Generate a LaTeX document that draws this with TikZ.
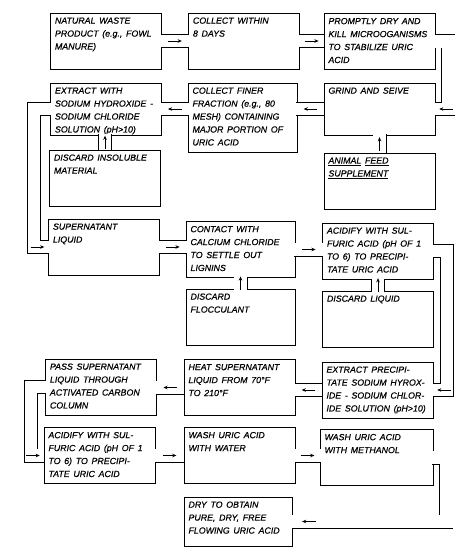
\documentclass[tikz,border=0pt]{standalone}
\usepackage{fontspec}
\setmainfont{Liberation Sans}[WordSpace=1.5, FakeBold=0.6]
\usetikzlibrary{arrows.meta,decorations.markings}

\begin{document}
\begin{tikzpicture}[x=0.85pt, y=-0.85pt,
  box/.style={draw, line width=.75pt, minimum width=94.4pt, minimum height=47.6pt, inner sep=0pt},
  txt/.style={anchor=north west, align=left, inner xsep=4pt, inner ysep=4pt, font=\fontsize{7.5}{11}\selectfont\itshape},
  pipe/.style={draw, line width=.75pt, double, double distance=10.4pt, shorten <=-.8pt, shorten >=-.8pt},
  tip/.style={-{Stealth[length=3.5pt,width=3pt]}, line width=.7pt},
  flow/.style={postaction={decorate, decoration={markings, mark=at position #1 with {\draw[tip] (-5pt,0) -- (5pt,0);}}}},
  flow/.default=0.5
]
\useasboundingbox (0,0) rectangle (464,548);

% first row
\node[box, label={[txt]north west:{NATURAL WASTE\\PRODUCT (e.g., FOWL\\MANURE)}}] (waste) at (106,41) {};
\node[box, label={[txt]north west:{COLLECT WITHIN\\8 DAYS}}] (collect) at (244,41) {};
\node[box, label={[txt]north west:{PROMPTLY DRY AND\\KILL MICROOGANISMS\\TO STABILIZE URIC\\ACID}}] (dry) at (379.5,41.5) {};

% second row
\node[box, minimum height=44.2pt, label={[txt]north west:{EXTRACT WITH\\SODIUM HYDROXIDE -\\SODIUM CHLORIDE\\SOLUTION (pH>10)}}] (extract) at (106,109) {};
\node[box, minimum width=92.6pt, minimum height=58.6pt, label={[txt]north west:{COLLECT FINER\\FRACTION (e.g., 80\\MESH) CONTAINING\\MAJOR PORTION OF\\URIC ACID}}] (finer) at (242.5,117.5) {};
\node[box, minimum height=44.2pt, label={[txt]north west:{GRIND AND SEIVE}}] (grind) at (379.5,109) {};

\node[box, label={[txt]north west:{DISCARD INSOLUBLE\\MATERIAL}}] (insol) at (105,178) {};
\node[box, label={[txt]north west:{\underline{ANIMAL} \underline{FEED}\\\underline{SUPPLEMENT}}}] (feed) at (379.5,181) {};

% middle part
\node[box, label={[txt]north west:{SUPERNATANT\\LIQUID}}] (super) at (104,247) {};
\node[box, minimum width=92.6pt, label={[txt]north west:{CONTACT WITH\\CALCIUM CHLORIDE\\TO SETTLE OUT\\LIGNINS}}] (contact) at (240.5,249.5) {};
\node[box, label={[txt]north west:{ACIDIFY WITH SUL-\\FURIC ACID (pH OF 1\\TO 6) TO PRECIPI-\\TATE URIC ACID}}] (acidA) at (378,251) {};

\node[box, minimum width=92.6pt, label={[txt]north west:{DISCARD\\FLOCCULANT}}] (floc) at (240.5,317) {};
\node[box, label={[txt]north west:{DISCARD LIQUID}}] (liquid) at (378,319) {};

\node[box, label={[txt]north west:{PASS SUPERNATANT\\LIQUID THROUGH\\ACTIVATED CARBON\\COLUMN}}] (carbon) at (101,387) {};
\node[box, label={[txt]north west:{HEAT SUPERNATANT\\LIQUID FROM 70°F\\TO 210°F}}] (heat) at (239.5,387.5) {};
\node[box, label={[txt]north west:{EXTRACT PRECIPI-\\TATE SODIUM HYROX-\\IDE - SODIUM CHLOR-\\IDE SOLUTION (pH>10)}}] (precip) at (377.5,390) {};

% last rows
\node[box, label={[txt]north west:{ACIDIFY WITH SUL-\\FURIC ACID (pH OF 1\\TO 6) TO PRECIPI-\\TATE URIC ACID}}] (acidB) at (99.5,455.5) {};
\node[box, label={[txt]north west:{WASH URIC ACID\\WITH WATER}}] (water) at (239.5,455.5) {};
\node[box, minimum width=96pt, label={[txt]north west:{WASH URIC ACID\\WITH METHANOL}}] (methanol) at (376.5,457.5) {};
\node[box, minimum width=91.8pt, minimum height=41.6pt, label={[txt]north west:{DRY TO OBTAIN\\PURE, DRY, FREE\\FLOWING URIC ACID}}] (final) at (238,521.5) {};

% pipes
\draw[pipe, flow] (waste.east) -- (collect.west);
\draw[pipe, flow] (collect.east) -- (collect.east -| dry.west);
\draw[pipe, flow=-9pt] (dry.east) -- ++(13,0) |- (grind.east);
\draw[pipe, flow] (grind.west) -- (grind.west -| finer.east);
\draw[pipe, flow] (extract.east -| finer.west) -- (extract.east);
\draw[pipe, flow] (insol.north) -- (insol.north |- extract.south);
\draw[pipe, flow] (feed.north) -- (feed.north |- grind.south);
\draw[pipe, flow=-9pt] (extract.west) -- ++(-16,0) |- (super.west);
\draw[pipe, flow] (super.east) -- (super.east -| contact.west);
\draw[pipe, flow] (contact.east) -- (contact.east -| acidA.west);
\draw[pipe, flow] (floc.north) -- (floc.north |- contact.south);
\draw[pipe, flow] (liquid.north) -- (liquid.north |- acidA.south);
\draw[pipe, flow=-9pt] (acidA.east) -- ++(13,0) |- (precip.east);
\draw[pipe, flow] (precip.west) -- (precip.west -| heat.east);
\draw[pipe, flow] (heat.west) -- (heat.west -| carbon.east);
\draw[pipe, flow=-9pt] (carbon.west) -- ++(-14,0) |- (acidB.west);
\draw[pipe, flow] (acidB.east) -- (acidB.east -| water.west);
\draw[pipe, flow] (water.east) -- (water.east -| methanol.west);
\draw[pipe, flow=-14pt] (methanol.east) -- ++(13,0) |- (final.east);
\end{tikzpicture}
\end{document}
